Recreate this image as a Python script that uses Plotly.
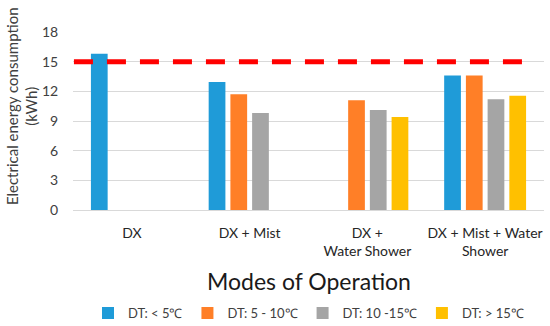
import plotly.graph_objects as go

categories = ["DX", "DX + Mist", "DX +<br>Water Shower", "DX + Mist + Water<br>Shower"]
series_names = ["DT: < 5\u2103", "DT: 5 - 10\u2103", "DT: 10 -15\u2103", "DT: > 15\u2103"]
dt_lt5 = [15.8, 12.95, None, 13.6]
dt_5_10 = [None, 11.7, 11.1, 13.6]
dt_10_15 = [None, 9.8, 10.1, 11.2]
dt_gt15 = [None, None, 9.4, 11.55]
reference_line = 15.0
y_ticks = [0, 3, 6, 9, 12, 15, 18]

colors = ["#1F9BD8", "#FF7F27", "#A5A5A5", "#FFC000"]
series_values = [dt_lt5, dt_5_10, dt_10_15, dt_gt15]

fig = go.Figure()
for name, vals, col in zip(series_names, series_values, colors):
    fig.add_trace(go.Bar(x=categories, y=vals, name=name, marker_color=col,
                         marker_line_width=0))

fig.add_shape(type="line", xref="paper", yref="y", x0=0.002, x1=0.965,
              y0=reference_line, y1=reference_line,
              line=dict(color="#FF0000", width=5, dash="19px,14px"))

font = "Lato, 'Open Sans', sans-serif"
fig.update_layout(
    width=550, height=326,
    margin=dict(l=73, r=6, t=32, b=116, autoexpand=False),
    paper_bgcolor="white", plot_bgcolor="white",
    barmode="group", bargap=0.262, bargroupgap=0.23,
    font=dict(family=font, color="#404040"),
    showlegend=True,
    legend=dict(orientation="h", x=0.5, xanchor="center", y=-0.579, yanchor="middle",
                font=dict(size=13, color="#404040"), itemwidth=30,
                traceorder="normal"),
    xaxis=dict(showgrid=False, showline=False, automargin=False,
               ticks="outside", ticklen=10, tickcolor="rgba(0,0,0,0)",
               tickfont=dict(size=14, color="#262626")),
    yaxis=dict(range=[0, 18], tickvals=y_ticks, showgrid=True, gridcolor="#D9D9D9",
               gridwidth=1, zeroline=True, zerolinecolor="#D9D9D9", zerolinewidth=1,
               automargin=False,
               ticks="outside", ticklen=11, tickcolor="rgba(0,0,0,0)",
               tickfont=dict(size=14, color="#404040")),
    annotations=[
        dict(text="Electrical energy consumption<br>(kWh)", textangle=-90,
             xref="paper", yref="paper", x=-0.1085, y=0.583,
             xanchor="center", yanchor="middle", showarrow=False,
             font=dict(size=15, color="#404040")),
        dict(text="Modes of Operation", xref="paper", yref="paper",
             x=0.5, y=-0.40, xanchor="center", yanchor="middle", showarrow=False,
             font=dict(size=23, color="#1a1a1a")),
    ],
)

fig.write_html("out.html", config={"displayModeBar": False},
               post_script="document.body.style.margin='0';document.body.style.overflow='hidden';")
